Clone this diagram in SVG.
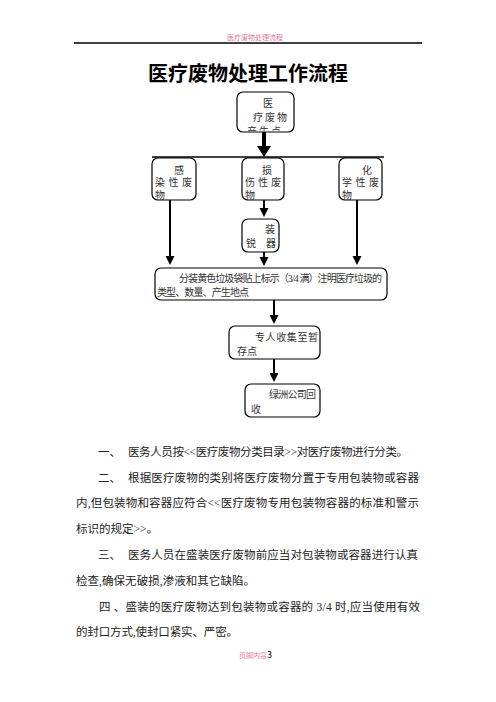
<svg xmlns="http://www.w3.org/2000/svg" width="496" height="702" viewBox="0 0 496 702">
<style>
.box{fill:#fff;stroke:#000;stroke-width:1.2}
.bt{font-family:"Liberation Serif","Noto Sans CJK SC",serif;font-size:10px;fill:#333}
.p{font-family:"Liberation Serif","Noto Sans CJK SC",serif;font-size:11.5px;fill:#222}
.conn{stroke:#000;stroke-width:2;fill:none;marker-end:url(#ah)}
</style>
<defs>
<marker id="ah" markerUnits="userSpaceOnUse" markerWidth="10" markerHeight="10" refX="3" refY="4.5" orient="auto">
<path d="M0,0 L9,4.5 L0,9 z" fill="#000"/>
</marker>
<clipPath id="c0"><rect x="238" y="93" width="55" height="38"/></clipPath>
</defs>
<rect width="496" height="702" fill="#fff"/>
<g id="header">
<text x="255" y="40" text-anchor="middle" font-family="Noto Sans CJK SC, sans-serif" font-size="7" fill="#e07aa0">医疗废物处理流程</text>
<line x1="74" y1="43" x2="422" y2="43" stroke="#000" stroke-width="1.3"/>
</g>
<text id="title" x="248" y="81" text-anchor="middle" font-family="Noto Sans CJK SC, sans-serif" font-size="20" font-weight="bold" fill="#000">医疗废物处理工作流程</text>
<g id="connectors">
<line x1="264" y1="132" x2="264" y2="147" stroke="#000" stroke-width="4"/>
<polygon points="257,146 271,146 264,157" fill="#000"/>
<line x1="152" y1="157" x2="384" y2="157" stroke="#000" stroke-width="1.3"/>
<path class="conn" d="M170,197 V259"/>
<path class="conn" d="M357,197 V259"/>
<path class="conn" d="M264,200 V211"/>
<path class="conn" d="M264,252 V260"/>
<path class="conn" d="M274,300 V318"/>
<path class="conn" d="M274,359 V376"/>
</g>
<g id="n-source">
<rect class="box" x="237" y="92" width="57" height="40" rx="6"/>
<g clip-path="url(#c0)">
<text class="bt" x="268" y="107" text-anchor="middle">医</text>
<text class="bt" x="253" y="121" textLength="34" lengthAdjust="spacing">疗废物</text>
<text class="bt" x="247" y="135" textLength="34" lengthAdjust="spacing">产生点</text>
</g>
</g>
<g id="n-infect">
<rect class="box" x="152" y="158" width="44" height="42" rx="6"/>
<text class="bt" x="179" y="174" text-anchor="middle">感</text>
<text class="bt" x="155" y="186" textLength="37" lengthAdjust="spacing">染性废</text>
<text class="bt" x="155" y="199" font-size="8">物</text>
</g>
<g id="n-sharp">
<rect class="box" x="242" y="158" width="42" height="42" rx="6"/>
<text class="bt" x="267" y="174" text-anchor="middle">损</text>
<text class="bt" x="245" y="186" textLength="36" lengthAdjust="spacing">伤性废</text>
<text class="bt" x="245" y="199" font-size="8">物</text>
</g>
<g id="n-chem">
<rect class="box" x="339" y="158" width="43" height="42" rx="6"/>
<text class="bt" x="367" y="174" text-anchor="middle">化</text>
<text class="bt" x="342" y="186" textLength="37" lengthAdjust="spacing">学性废</text>
<text class="bt" x="342" y="199" font-size="8">物</text>
</g>
<g id="n-box">
<rect class="box" x="242" y="219" width="37" height="33" rx="6"/>
<text class="bt" x="270" y="233" text-anchor="middle">装</text>
<text class="bt" x="246" y="247" textLength="30" lengthAdjust="spacing">锐 器</text>
</g>
<g id="n-bag">
<rect class="box" x="155" y="268" width="232" height="32" rx="6"/>
<text class="bt" x="179" y="282" textLength="203" lengthAdjust="spacing">分装黄色垃圾袋贴上标示（3/4 满）注明医疗垃圾的</text>
<text class="bt" x="157" y="296" textLength="92" lengthAdjust="spacing">类型、数量、产生地点</text>
</g>
<g id="n-collect">
<rect class="box" x="229" y="326" width="91" height="33" rx="6"/>
<text class="bt" x="255" y="341" textLength="63" lengthAdjust="spacing">专人收集至暂</text>
<text class="bt" x="237" y="355" textLength="20" lengthAdjust="spacing">存点</text>
</g>
<g id="n-recycle">
<rect class="box" x="245" y="384" width="75" height="33" rx="6"/>
<text class="bt" x="269" y="398" textLength="47" lengthAdjust="spacing">绿洲公司回</text>
<text class="bt" x="251" y="413">收</text>
</g>
<g id="body">
<text class="p" x="98" y="456">一、</text>
<text class="p" x="128" y="456" textLength="280" lengthAdjust="spacing">医务人员按&lt;&lt;医疗废物分类目录&gt;&gt;对医疗废物进行分类。</text>
<text class="p" x="98" y="482">二、</text>
<text class="p" x="128" y="482" textLength="291" lengthAdjust="spacing">根据医疗废物的类别将医疗废物分置于专用包装物或容器</text>
<text class="p" x="76" y="507" textLength="343" lengthAdjust="spacing">内,但包装物和容器应符合&lt;&lt;医疗废物专用包装物容器的标准和警示</text>
<text class="p" x="76" y="533">标识的规定&gt;&gt;。</text>
<text class="p" x="98" y="559">三、</text>
<text class="p" x="128" y="559" textLength="290" lengthAdjust="spacing">医务人员在盛装医疗废物前应当对包装物或容器进行认真</text>
<text class="p" x="76" y="585" textLength="179" lengthAdjust="spacing">检查,确保无破损,渗液和其它缺陷。</text>
<text class="p" x="99" y="611" textLength="321" lengthAdjust="spacing">四 、盛装的医疗废物达到包装物或容器的 3/4 时,应当使用有效</text>
<text class="p" x="76" y="636" textLength="162" lengthAdjust="spacing">的封口方式,使封口紧实、严密。</text>
</g>
<g id="footer">
<text x="239" y="658" font-family="Noto Sans CJK SC, sans-serif" font-size="7" fill="#e07aa0">页脚内容<tspan fill="#000" font-size="9">3</tspan></text>
</g>
</svg>
